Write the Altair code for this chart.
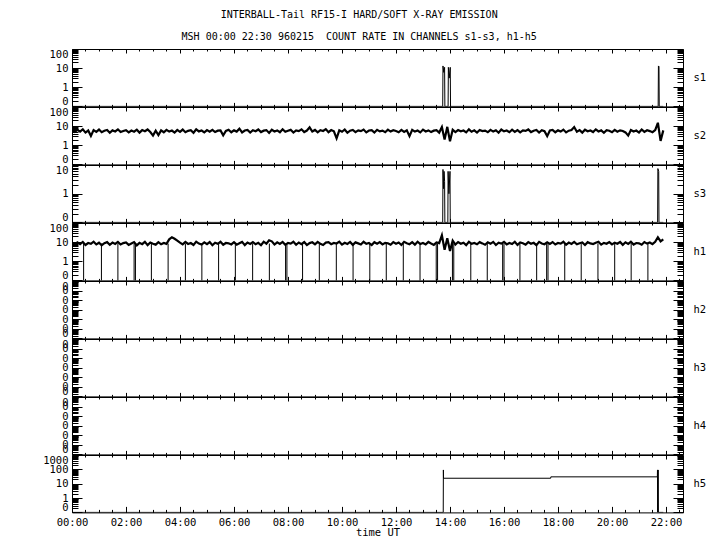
import altair as alt
import pandas as pd

W, H = 611, 57.4
FONT = "DejaVu Sans Mono"
FS = 10.5

TITLE = ["INTERBALL-Tail RF15-I HARD/SOFT X-RAY EMISSION",
         "MSH 00:00 22:30 960215 \u00a0COUNT RATE IN CHANNELS s1-s3, h1-h5"]
X_MAX = 22.63
X_LABEL_HOURS = [0, 2, 4, 6, 8, 10, 12, 14, 16, 18, 20, 22]
X_TICKS = [i * 0.5 for i in range(46)]

# sampling times (hours UT) of the noisy channels
SAMPLE_T = [round(0.1 * i, 1) for i in range(220)]

S2 = [5.8, 4.9, 6.4, 5.2, 6.9, 4.6, 5.9, 3.1, 6.2, 5.0, 6.6, 4.8, 5.7, 6.3, 4.5, 6.0, 5.3, 6.8, 4.9, 5.6,
      6.1, 4.7, 5.9, 5.1, 6.5, 4.6, 6.2, 5.4, 6.7, 4.9, 3.2, 5.8, 3.4, 6.0, 4.8, 6.4, 5.2, 5.9, 4.6, 6.3,
      5.0, 6.6, 4.8, 5.7, 6.1, 4.5, 6.8, 5.3, 5.9, 4.7, 6.2, 5.1, 6.4, 4.9, 5.8, 6.0, 3.3, 5.6, 6.5, 4.8,
      6.0, 5.2, 7.4, 4.7, 5.9, 6.3, 4.6, 6.1, 5.4, 6.7, 4.9, 5.8, 6.2, 4.4, 6.5, 5.3, 6.0, 4.8, 6.9, 5.1,
      5.7, 6.4, 4.6, 6.0, 5.5, 6.8, 4.9, 5.9, 8.6, 5.2, 6.3, 4.7, 6.1, 5.6, 7.0, 4.8, 6.2, 5.4, 2.3, 6.0,
      5.1, 6.7, 4.5, 5.8, 6.3, 4.9, 6.0, 5.5, 6.6, 4.7, 5.9, 6.2, 4.6, 6.4, 5.3, 5.8, 4.8, 6.5, 5.2, 6.1,
      5.6, 4.8, 6.3, 5.0, 6.1, 3.0, 6.4, 5.2, 5.9, 4.7, 6.6, 5.3, 6.0, 4.9, 5.8, 6.2, 4.6, 9.0, 2.0, 9.2,
      1.6, 6.5, 4.9, 6.2, 5.4, 5.9, 4.7, 6.8, 5.1, 6.0, 4.6, 6.3, 5.5, 5.8, 4.8, 6.4, 5.2, 6.1, 4.5, 6.6,
      5.3, 5.9, 4.8, 6.5, 5.0, 6.2, 4.7, 6.0, 5.6, 6.7, 4.9, 5.8, 6.3, 4.6, 6.1, 5.4, 3.0, 5.9, 6.4, 4.8,
      6.0, 5.2, 6.6, 4.7, 5.8, 6.3, 9.0, 5.1, 6.2, 4.6, 6.5, 5.4, 5.9, 4.9, 6.8, 5.3, 6.0, 4.5, 6.2, 5.7,
      4.8, 6.4, 5.1, 6.0, 5.6, 4.7, 3.2, 6.3, 5.2, 5.9, 4.6, 6.7, 5.0, 6.1, 5.5, 4.8, 6.2, 15.0, 1.7, 6.0]

H1 = [8.6, 7.4, 9.8, 7.9, 10.2, 7.1, 9.0, 8.2, 10.5, 7.6, 9.3, 6.9, 8.8, 10.0, 7.3, 9.5, 8.0, 10.3, 7.5, 8.9,
      9.7, 7.2, 8.5, 10.1, 6.8, 9.2, 7.8, 10.4, 7.0, 9.6, 8.3, 7.4, 10.0, 7.7, 9.1, 8.1, 14.0, 18.0, 15.0, 12.0,
      9.4, 7.6, 10.2, 8.0, 9.0, 7.1, 10.6, 8.4, 7.5, 9.8, 7.9, 10.1, 6.9, 9.3, 8.2, 10.4, 7.3, 9.0, 8.7, 7.6,
      9.9, 7.4, 8.8, 10.3, 7.0, 9.5, 8.1, 10.0, 7.7, 9.2, 6.9, 10.5, 8.3, 12.5, 11.0, 7.5, 9.7, 8.0, 10.2, 7.2,
      9.1, 8.4, 10.4, 7.3, 9.6, 7.9, 10.1, 7.0, 8.9, 9.8, 7.6, 10.3, 8.2, 7.1, 9.4, 10.0, 7.8, 9.0, 8.5, 10.6,
      7.4, 9.3, 8.0, 10.2, 7.2, 9.7, 8.6, 7.5, 10.4, 8.1, 9.0, 7.0, 9.9, 8.3, 10.1, 7.6, 9.2, 8.8, 7.3, 10.0,
      8.2, 9.6, 7.1, 10.3, 8.7, 7.8, 9.9, 7.4, 10.5, 8.0, 9.1, 7.6, 10.2, 8.5, 7.2, 9.7, 8.9, 23.0, 4.0, 16.0,
      3.4, 12.0, 7.5, 10.1, 8.3, 9.4, 7.0, 10.4, 8.1, 9.0, 7.7, 10.0, 8.6, 7.3, 9.8, 8.2, 10.3, 7.1, 9.3, 8.4,
      10.2, 7.6, 9.1, 8.0, 10.5, 7.2, 9.6, 8.7, 7.4, 10.0, 8.3, 9.2, 7.0, 10.3, 8.5, 7.8, 9.9, 8.1, 10.1, 7.5,
      9.0, 8.4, 10.4, 7.3, 9.5, 8.0, 10.2, 7.7, 8.8, 9.7, 7.1, 10.0, 8.6, 7.9, 9.3, 10.5, 7.4, 9.1, 8.2, 10.1,
      7.6, 9.4, 8.3, 10.2, 7.2, 9.8, 8.1, 10.4, 7.5, 9.0, 8.7, 7.3, 10.1, 8.4, 9.6, 7.8, 10.3, 18.0, 11.0, 14.0]

# h1 dropouts to zero count (hours UT); close pairs are the longer dropouts
H1_DROP_T = [0.43, 1.09, 1.70, 2.30, 2.35, 2.94, 3.56, 4.20, 4.81, 5.43, 6.05, 6.69, 7.31, 7.91, 7.96,
             8.54, 9.16, 9.79, 10.41, 11.03, 11.64, 12.27, 12.89, 13.49, 13.54, 14.09, 14.14, 14.77,
             15.38, 15.95, 16.00, 16.59, 17.21, 17.58, 17.63, 18.25, 18.86, 19.48, 20.10, 20.71, 21.33]
H1_DROP_V = [0.0] * len(H1_DROP_T)
H1_LEVEL = 8.4

S1_T = [0.0, 13.73, 13.74, 13.77, 13.80, 13.81, 13.93, 13.94, 13.97, 14.01, 14.02, 21.71, 21.72, 21.74, 21.75, 21.9]
S1_V = [0, 0, 13, 6, 11, 0, 0, 11, 3, 11, 0, 0, 13, 12, 0, 0]

S3_T = [0.0, 13.73, 13.74, 13.76, 13.78, 13.80, 13.81, 13.92, 13.93, 13.96, 14.00, 14.01, 21.69, 21.70, 21.73, 21.74, 21.9]
S3_V = [0, 0, 7, 1.5, 6, 2.7, 0, 0, 6, 1.0, 6, 0, 0, 7.5, 6, 0, 0]

H5_T = [0.0, 13.75, 13.755, 13.76, 17.73, 17.735, 21.68, 21.685, 21.69, 21.71, 21.72, 21.73, 21.9]
H5_V = [0, 0, 91, 24, 24, 30, 30, 91, 0, 91, 0, 0, 0]

MAJ_Y = "abs(log(datum.value)/LN10 - round(log(datum.value)/LN10)) < 0.001"
MAJ_X = "abs(datum.value/2 - round(datum.value/2)) < 0.001"


def cond(test, a, b):
    return {"condition": {"test": test, "value": a}, "value": b}


def yticks(lo, hi):
    major = [10.0 ** e for e in range(lo, hi + 1)]
    minor = [k * 10.0 ** e for e in range(lo, hi) for k in range(2, 10)]
    return major, sorted(major + minor)


def xs(axis):
    return alt.X("t:Q", scale=alt.Scale(domain=[0, X_MAX], nice=False, zero=False), axis=axis)


def ys(field, lo, hi, axis):
    return alt.Y(field, scale=alt.Scale(type="log", domain=[10.0 ** lo, 10.0 ** hi], nice=False), axis=axis)


INV = pd.DataFrame({"t": [1.0], "yp": [1.0]})


def line_layer(ts, vs, lo, hi, sw=1.0):
    df = pd.DataFrame({"t": ts, "v": vs})
    return alt.Chart(df).mark_line(color="black", strokeWidth=sw, clip=True).transform_calculate(
        yp="max(datum.v, 0.1)").encode(xs(None), ys("yp:Q", lo, hi, None))


def panel(name, lo, hi, data_layers, bottom=False, zero_only=False):
    major, allt = yticks(lo, hi)
    lab = "'0'" if zero_only else "datum.value < 0.5 ? '0' : format(datum.value, 'd')"
    ax1y = alt.Axis(orient="left", values=major, labelExpr=lab, ticks=False, tickSize=0, domain=False,
                    labelPadding=4, labelFlush=True, labelOverlap=False, title=None, grid=False)
    if bottom:
        ax1x = alt.Axis(orient="bottom", values=X_LABEL_HOURS,
                        labelExpr="(datum.value < 10 ? '0' : '') + datum.value + ':00'",
                        ticks=False, tickSize=0, domain=False, labelPadding=5, labelFlush=False,
                        labelOverlap=False, title="time UT", titlePadding=0, grid=False)
    else:
        ax1x = None
    ytk = cond(MAJ_Y, 10, 6)
    xtk = cond(MAJ_X, 4, 2)
    xtk_b = cond(MAJ_X, 6, 3) if bottom else xtk
    a1 = alt.Chart(INV).mark_point(opacity=0).encode(xs(ax1x), ys("yp:Q", lo, hi, ax1y))
    a2 = alt.Chart(INV).mark_point(opacity=0).encode(
        xs(alt.Axis(orient="top", offset=-H, values=X_TICKS, labels=False, domain=False,
                    tickSize=xtk_b, title=None, grid=False)),
        ys("yp:Q", lo, hi, alt.Axis(orient="right", offset=-W, values=allt, labels=False,
                                     domain=False, tickSize=ytk, title=None, grid=False)))
    a3 = alt.Chart(INV).mark_point(opacity=0).encode(
        xs(alt.Axis(orient="bottom", offset=-H, values=X_TICKS, labels=False, domain=False,
                    tickSize=xtk, title=None, grid=False)),
        ys("yp:Q", lo, hi, alt.Axis(orient="left", offset=-W, values=allt, labels=False,
                                     domain=False, tickSize=ytk, title=None, grid=False)))
    a4 = alt.Chart(INV).mark_point(opacity=0).encode(
        xs(None),
        ys("yp:Q", lo, hi, alt.Axis(orient="right", labels=False, ticks=False, domain=False,
                                     title=name, titleAngle=0, titleAlign="left",
                                     titleBaseline="middle", titlePadding=10, grid=False)))
    return alt.layer(*data_layers, a1, a2, a3, a4).resolve_axis(
        x="independent", y="independent").properties(width=W, height=H)


h1_line = line_layer(SAMPLE_T, H1, -1, 2, sw=2.2)
h1_drops = alt.Chart(pd.DataFrame({"t": H1_DROP_T, "v": H1_DROP_V, "top": [H1_LEVEL] * len(H1_DROP_T)})).mark_rule(
    color="black", strokeWidth=1).transform_calculate(yp="max(datum.v, 0.1)").encode(
    xs(None), ys("yp:Q", -1, 2, None), y2="top:Q")

panels = [
    panel("s1", -1, 2, [line_layer(S1_T, S1_V, -1, 2)]),
    panel("s2", -1, 2, [line_layer(SAMPLE_T, S2, -1, 2, sw=2.2)]),
    panel("s3", -1, 1, [line_layer(S3_T, S3_V, -1, 1)]),
    panel("h1", -1, 2, [h1_line, h1_drops]),
    panel("h2", -6, 0, [], zero_only=True),
    panel("h3", -6, 0, [], zero_only=True),
    panel("h4", -6, 0, [], zero_only=True),
    panel("h5", -1, 3, [line_layer(H5_T, H5_V, -1, 3)], bottom=True),
]

chart = alt.vconcat(*panels, spacing=0, bounds="flush").properties(
    title=alt.TitleParams(TITLE, font=FONT, fontSize=10, fontWeight="normal", color="black",
                          anchor="middle", dx=-15, offset=6, lineHeight=22),
    padding={"left": 34, "top": 2, "right": 5, "bottom": 5},
    background="white",
).configure_view(stroke="black", strokeWidth=1).configure_axis(
    labelFont=FONT, labelFontSize=FS, titleFont=FONT, titleFontSize=FS, titleFontWeight="normal",
    labelColor="black", titleColor="black", tickColor="black", tickWidth=1, grid=False)

chart.save("out.html", embed_options={"renderer": "svg", "actions": False})
